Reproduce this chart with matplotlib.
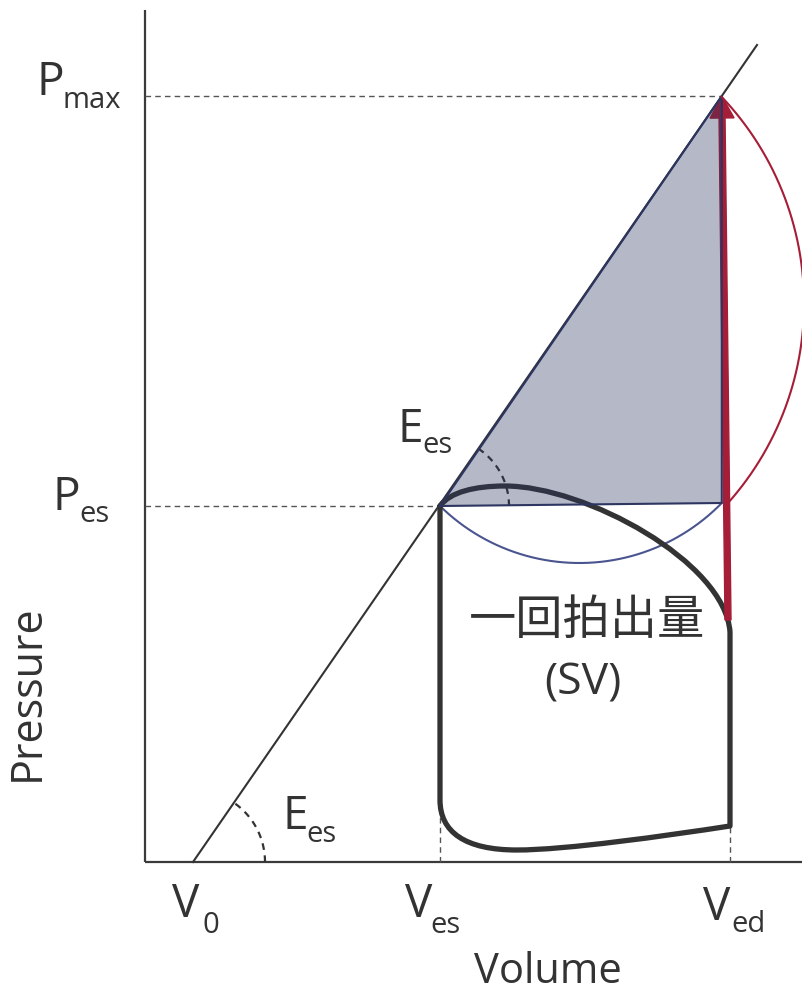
import numpy as np
import matplotlib
matplotlib.use("Agg")
import matplotlib.pyplot as plt
from matplotlib.patches import Polygon, PathPatch
from matplotlib.path import Path

plt.rcParams['font.family'] = ['Open Sans', 'Noto Sans CJK JP', 'DejaVu Sans']

# key values (volume, pressure in arbitrary units)
V0 = 48
Ves = 295
Ved = 585
Pes = 356
Pmax = 766
Ees = 1.4486
V_line_end = 612
V_pmax = V0 + Pmax / Ees

# PV loop outline: anchor / bezier control points
loop_v = [295, 305, 330, 360, 440, 580, 585, 585, 520, 420, 372, 320, 295, 295, 295, 295]
loop_p = [356, 370, 376, 376, 376, 300, 230, 36, 26, 12, 12, 12, 30, 62, 345, 356]
loop_codes = [Path.MOVETO, Path.CURVE4, Path.CURVE4, Path.CURVE4,
              Path.CURVE4, Path.CURVE4, Path.CURVE4, Path.LINETO,
              Path.CURVE4, Path.CURVE4, Path.CURVE4,
              Path.CURVE4, Path.CURVE4, Path.CURVE4, Path.LINETO, Path.LINETO]

# arcs given as (start, middle, end)
sv_arc = [(Ves, Pes), (435, 299), (V_pmax, 359)]
pmax_arc = [(V_pmax, 765), (659, 562), (583, 359)]

ink = '#333333'
navy = '#2d3561'
red = '#a51d36'


def arc_points(p1, p2, p3, n=300):
    (x1, y1), (x2, y2), (x3, y3) = p1, p2, p3
    a = np.array([[x2 - x1, y2 - y1], [x3 - x1, y3 - y1]], dtype=float)
    b = 0.5 * np.array([x2**2 - x1**2 + y2**2 - y1**2, x3**2 - x1**2 + y3**2 - y1**2])
    cx, cy = np.linalg.solve(a, b)
    r = np.hypot(x1 - cx, y1 - cy)
    a1 = np.arctan2(y1 - cy, x1 - cx)
    a2 = np.arctan2(y2 - cy, x2 - cx)
    a3 = np.arctan2(y3 - cy, x3 - cx)
    d13 = (a3 - a1) % (2 * np.pi)
    d12 = (a2 - a1) % (2 * np.pi)
    if d12 < d13:
        t = np.linspace(a1, a1 + d13, n)
    else:
        t = np.linspace(a1, a1 - (2 * np.pi - d13), n)
    return cx + r * np.cos(t), cy + r * np.sin(t)


fig = plt.figure(figsize=(8.03, 9.96), dpi=100)
ax = fig.add_axes([0, 0, 1, 1])
ax.set_xlim(-145, 658)
ax.set_ylim(-134, 862)
ax.axis('off')

# axes
ax.plot([0, 0], [0, 852], color='#3a3a3a', lw=1.6, solid_capstyle='butt')
ax.plot([0, 658], [0, 0], color='#3a3a3a', lw=1.6, solid_capstyle='butt')

# dashed guides
dash = dict(color='#555555', lw=1.0, ls=(0, (4, 3)))
ax.plot([0, V_pmax], [Pmax, Pmax], **dash)
ax.plot([0, Ves], [Pes, Pes], **dash)
ax.plot([Ves, Ves], [0, 52], **dash)
ax.plot([Ved, Ved], [0, 36], **dash)

# ESPVR line
ax.plot([V0, V_line_end], [0, Ees * (V_line_end - V0)], color=ink, lw=1.5, zorder=3)

# angle marks
ang = np.arctan(Ees)
t = np.linspace(0, ang, 60)
ax.plot(V0 + 72 * np.cos(t), 72 * np.sin(t), color=ink, lw=1.6, ls=(0, (3, 2.5)))
ax.plot(Ves + 69 * np.cos(t), Pes + 69 * np.sin(t), color=ink, lw=1.6, ls=(0, (3, 2.5)), zorder=4)

# blue arc
bx, by = arc_points(*sv_arc)
ax.plot(bx, by, color='#4a5590', lw=1.5, zorder=2)

# PV loop
loop = Path(np.column_stack([loop_v, loop_p]), loop_codes)
ax.add_patch(PathPatch(loop, facecolor='none', edgecolor=ink, lw=3.8,
                       joinstyle='round', capstyle='round', zorder=4))

# red arrow
ax.arrow(583, 242, V_pmax - 583, Pmax - 242, width=6, head_width=24, head_length=22,
         length_includes_head=True, color=red, zorder=5)

# shaded triangle
tri = Polygon([(Ves, Pes), (V_pmax, Pmax), (V_pmax, 359)], closed=True,
              facecolor=navy, alpha=0.35, edgecolor='none', zorder=6)
ax.add_patch(tri)
ax.plot([Ves, V_pmax, V_pmax, Ves], [Pes, Pmax, 359, Pes], color=navy, lw=1.5, zorder=6)

# red arc
rx, ry = arc_points(*pmax_arc)
ax.plot(rx, ry, color=red, lw=1.5, zorder=7)

# labels
big = 33
sub = 21
kw = dict(color=ink, ha='left', va='baseline')
ax.text(-108, 767, 'P', fontsize=big, **kw)
ax.text(-82, 754, 'max', fontsize=sub, **kw)
ax.text(-92, 352, 'P', fontsize=big, **kw)
ax.text(-66, 340, 'es', fontsize=sub, **kw)
ax.text(253, 420, 'E', fontsize=big, **kw)
ax.text(277, 409, 'es', fontsize=sub, **kw)
ax.text(138, 33, 'E', fontsize=big, **kw)
ax.text(161, 20, 'es', fontsize=sub, **kw)
ax.text(27, -55, 'V', fontsize=big, **kw)
ax.text(58, -71, '0', fontsize=sub, **kw)
ax.text(260, -55, 'V', fontsize=big, **kw)
ax.text(285, -71, 'es', fontsize=sub, **kw)
ax.text(558, -58, 'V', fontsize=big, **kw)
ax.text(586, -70, 'ed', fontsize=sub, **kw)

ax.text(442, 241, '一回拍出量', fontsize=34, color=ink, ha='center', va='center')
ax.text(438, 179, '(SV)', fontsize=32, color=ink, ha='center', va='center')

ax.text(403, -121, 'Volume', fontsize=30, color=ink, ha='center', va='baseline')
ax.text(-117, 169, 'Pressure', fontsize=31, color=ink, ha='center', va='center', rotation=90)

fig.savefig('out.png', dpi=100)
